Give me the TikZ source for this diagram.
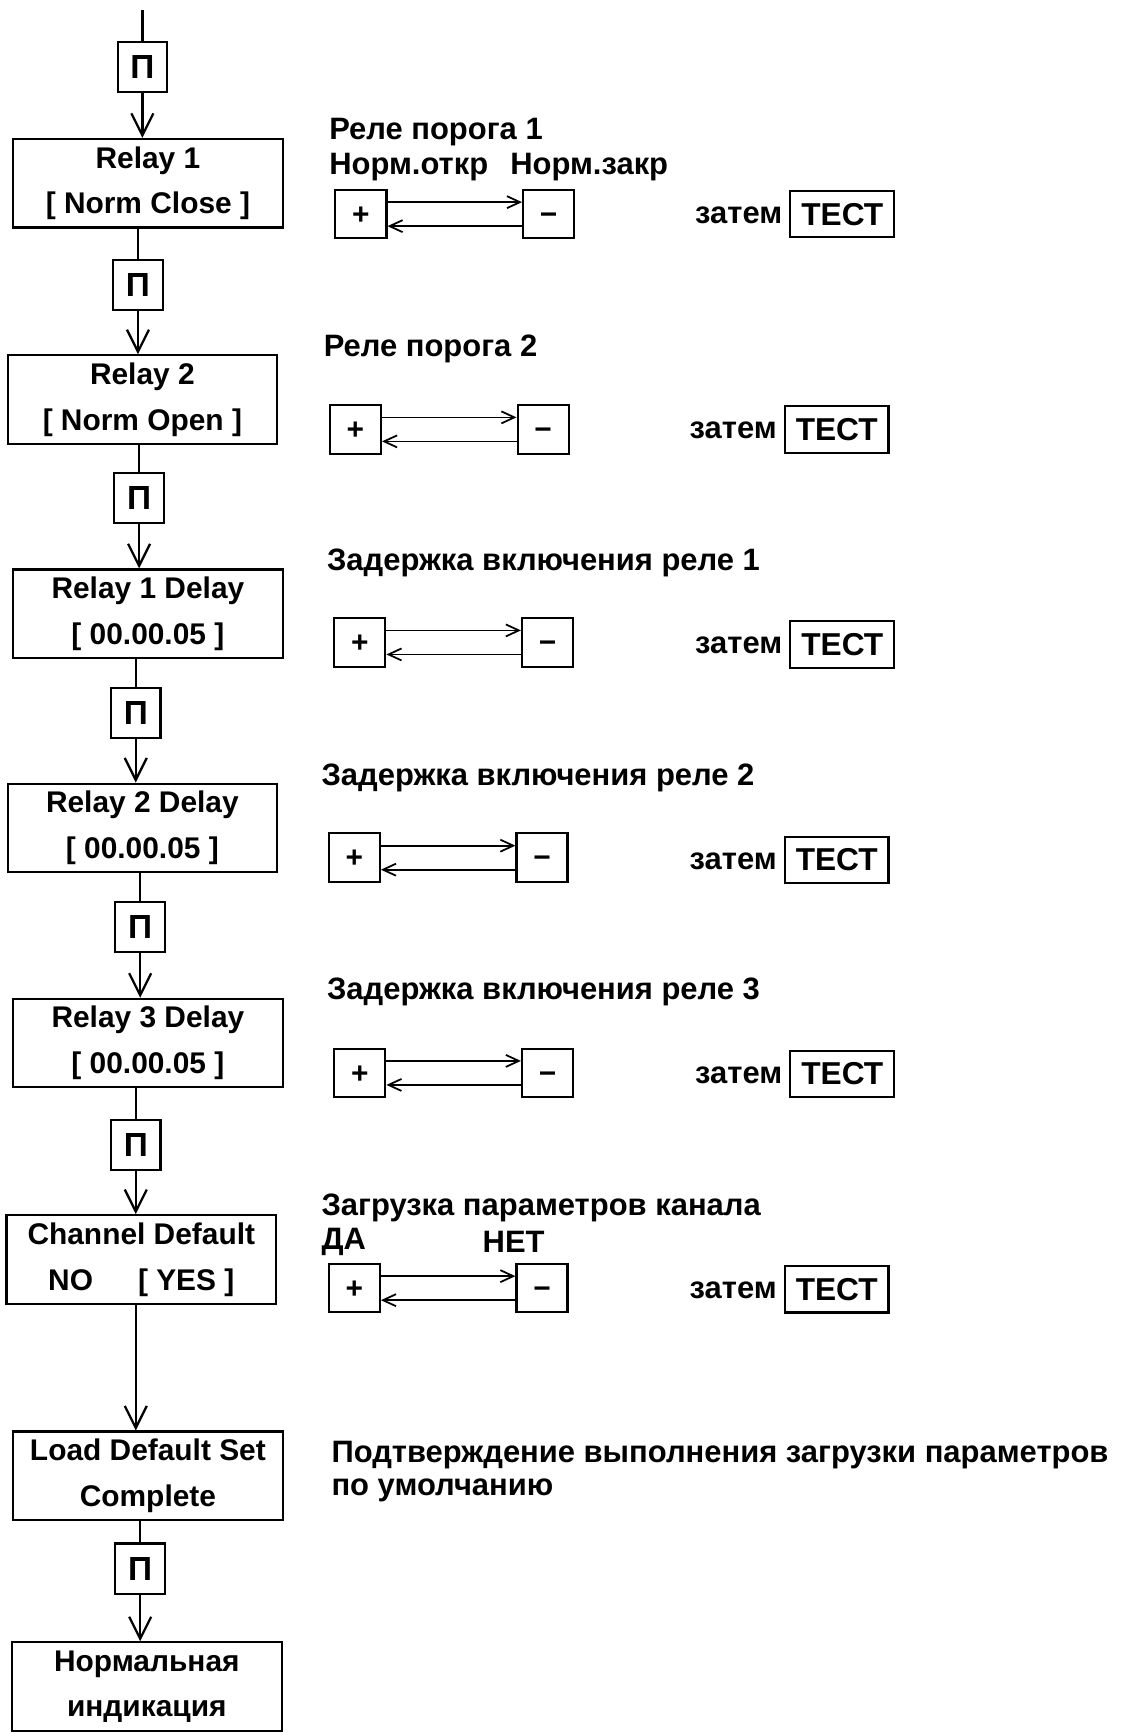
\documentclass[tikz,border=0pt]{standalone}
\usepackage{fontspec}
\setmainfont{Liberation Sans}
\usetikzlibrary{positioning,arrows.meta}

\tikzset{
  state/.style={draw, line width=1.2pt, minimum width=5.39cm, minimum height=1.77cm, inner sep=0pt, align=center, font=\bfseries\fontsize{17}{26}\selectfont},
  pkey/.style={draw, line width=1.2pt, minimum width=0.99cm, minimum height=1.0cm, inner sep=0pt, font=\bfseries\fontsize{19}{19}\selectfont},
  sign/.style={draw, line width=1.2pt, minimum width=1.02cm, minimum height=0.97cm, inner sep=0pt, text height=11.6pt, text depth=0pt, font=\bfseries\fontsize{17}{17}\selectfont},
  testkey/.style={draw, line width=1.2pt, minimum width=2.07cm, minimum height=0.93cm, inner sep=0pt, font=\bfseries\fontsize{18}{18}\selectfont},
  lbl/.style={anchor=west, inner sep=0pt, font=\bfseries\fontsize{17.6}{20}\selectfont},
  flow/.style={line width=1.3pt},
  flowarr/.style={flow, -{Straight Barb[length=4.4mm, width=4.4mm]}},
  swaparr/.style={line width=1pt, -{Straight Barb[length=2.6mm, width=2.4mm]}},
}

\begin{document}
\begin{tikzpicture}[x=0.02207cm, y=-0.02207cm]
  \useasboundingbox (0,0) rectangle (1015,1570);

  % left column
  \coordinate (top) at (129,9);
  \node[pkey] (p1) at (129,61) {П};
  \node[state] (r1) at (134,166) {Relay 1\\{[} Norm Close ]};
  \node[pkey] (p2) at (125,258) {П};
  \node[state] (r2) at (129,362) {Relay 2\\{[} Norm Open ]};
  \node[pkey] (p3) at (126,451) {П};
  \node[state] (d1) at (134,556) {Relay 1 Delay\\{[} 00.00.05 ]};
  \node[pkey] (p4) at (123,646) {П};
  \node[state] (d2) at (129,750) {Relay 2 Delay\\{[} 00.00.05 ]};
  \node[pkey] (p5) at (127,840) {П};
  \node[state] (d3) at (134,945) {Relay 3 Delay\\{[} 00.00.05 ]};
  \node[pkey] (p6) at (123,1037) {П};
  \node[state] (cd) at (128,1141) {Channel Default\\NO\hspace{0.9cm}{[} YES ]};
  \node[state] (ld) at (134,1337) {Load Default Set\\Complete};
  \node[pkey] (p7) at (127,1421) {П};
  \node[state] (ni) at (133,1528) {Нормальная\\индикация};

  \draw[flow] (top) -- (p1);
  \draw[flowarr] (p1) -- (p1 |- r1.north);
  \draw[flow] (r1.south -| p2) -- (p2);
  \draw[flowarr] (p2) -- (p2 |- r2.north);
  \draw[flow] (r2.south -| p3) -- (p3);
  \draw[flowarr] (p3) -- (p3 |- d1.north);
  \draw[flow] (d1.south -| p4) -- (p4);
  \draw[flowarr] (p4) -- (p4 |- d2.north);
  \draw[flow] (d2.south -| p5) -- (p5);
  \draw[flowarr] (p5) -- (p5 |- d3.north);
  \draw[flow] (d3.south -| p6) -- (p6);
  \draw[flowarr] (p6) -- (p6 |- cd.north);
  \draw[flowarr] (cd.south -| p6) -- (p6 |- ld.north);
  \draw[flow] (ld.south -| p7) -- (p7);
  \draw[flowarr] (p7) -- (p7 |- ni.north);

  % right column
  \node[lbl] (h1) at (298,120) {Реле порога 1};
  \node[lbl] (no1) at (298,151) {Норм.откр};
  \node[lbl] (nc1) at (462,151) {Норм.закр};
  \node[sign] (plus1) at (327,194) {+};
  \node[sign] (minus1) at (497,194) {−};
  \node[testkey] (t1) at (763,194) {ТЕСТ};
  \node[lbl, anchor=east] (z1) at (709,195) {затем};

  \node[lbl] (h2) at (293,316) {Реле порога 2};
  \node[sign] (plus2) at (322,389) {+};
  \node[sign] (minus2) at (492,389) {−};
  \node[testkey] (t2) at (758,389) {ТЕСТ};
  \node[lbl, anchor=east] (z2) at (704,390) {затем};

  \node[lbl] (h3) at (296,510) {Задержка включения реле 1};
  \node[sign] (plus3) at (326,582) {+};
  \node[sign] (minus3) at (496,582) {−};
  \node[testkey] (t3) at (763,584) {ТЕСТ};
  \node[lbl, anchor=east] (z3) at (709,585) {затем};

  \node[lbl] (h4) at (291,705) {Задержка включения реле 2};
  \node[sign] (plus4) at (321,777) {+};
  \node[sign] (minus4) at (491,777) {−};
  \node[testkey] (t4) at (758,779) {ТЕСТ};
  \node[lbl, anchor=east] (z4) at (704,780) {затем};

  \node[lbl] (h5) at (296,899) {Задержка включения реле 3};
  \node[sign] (plus5) at (326,972) {+};
  \node[sign] (minus5) at (496,972) {−};
  \node[testkey] (t5) at (763,973) {ТЕСТ};
  \node[lbl, anchor=east] (z5) at (709,974) {затем};

  \node[lbl] (h6) at (291,1094) {Загрузка параметров канала};
  \node[lbl] (yes6) at (291,1125) {ДА};
  \node[lbl] (no6) at (437,1125) {НЕТ};
  \node[sign] (plus6) at (321,1167) {+};
  \node[sign] (minus6) at (491,1167) {−};
  \node[testkey] (t6) at (758,1168) {ТЕСТ};
  \node[lbl, anchor=east] (z6) at (704,1169) {затем};

  \node[lbl] (h7) at (300,1318) {Подтверждение выполнения загрузки параметров};
  \node[lbl] (h7b) at (300,1350) {по умолчанию};

  \foreach \i in {1,...,6}{
    \draw[swaparr] ([yshift=2.4mm]plus\i.east) -- ([yshift=2.4mm]minus\i.west);
    \draw[swaparr] ([yshift=-2.4mm]minus\i.west) -- ([yshift=-2.4mm]plus\i.east);
  }
\end{tikzpicture}
\end{document}
